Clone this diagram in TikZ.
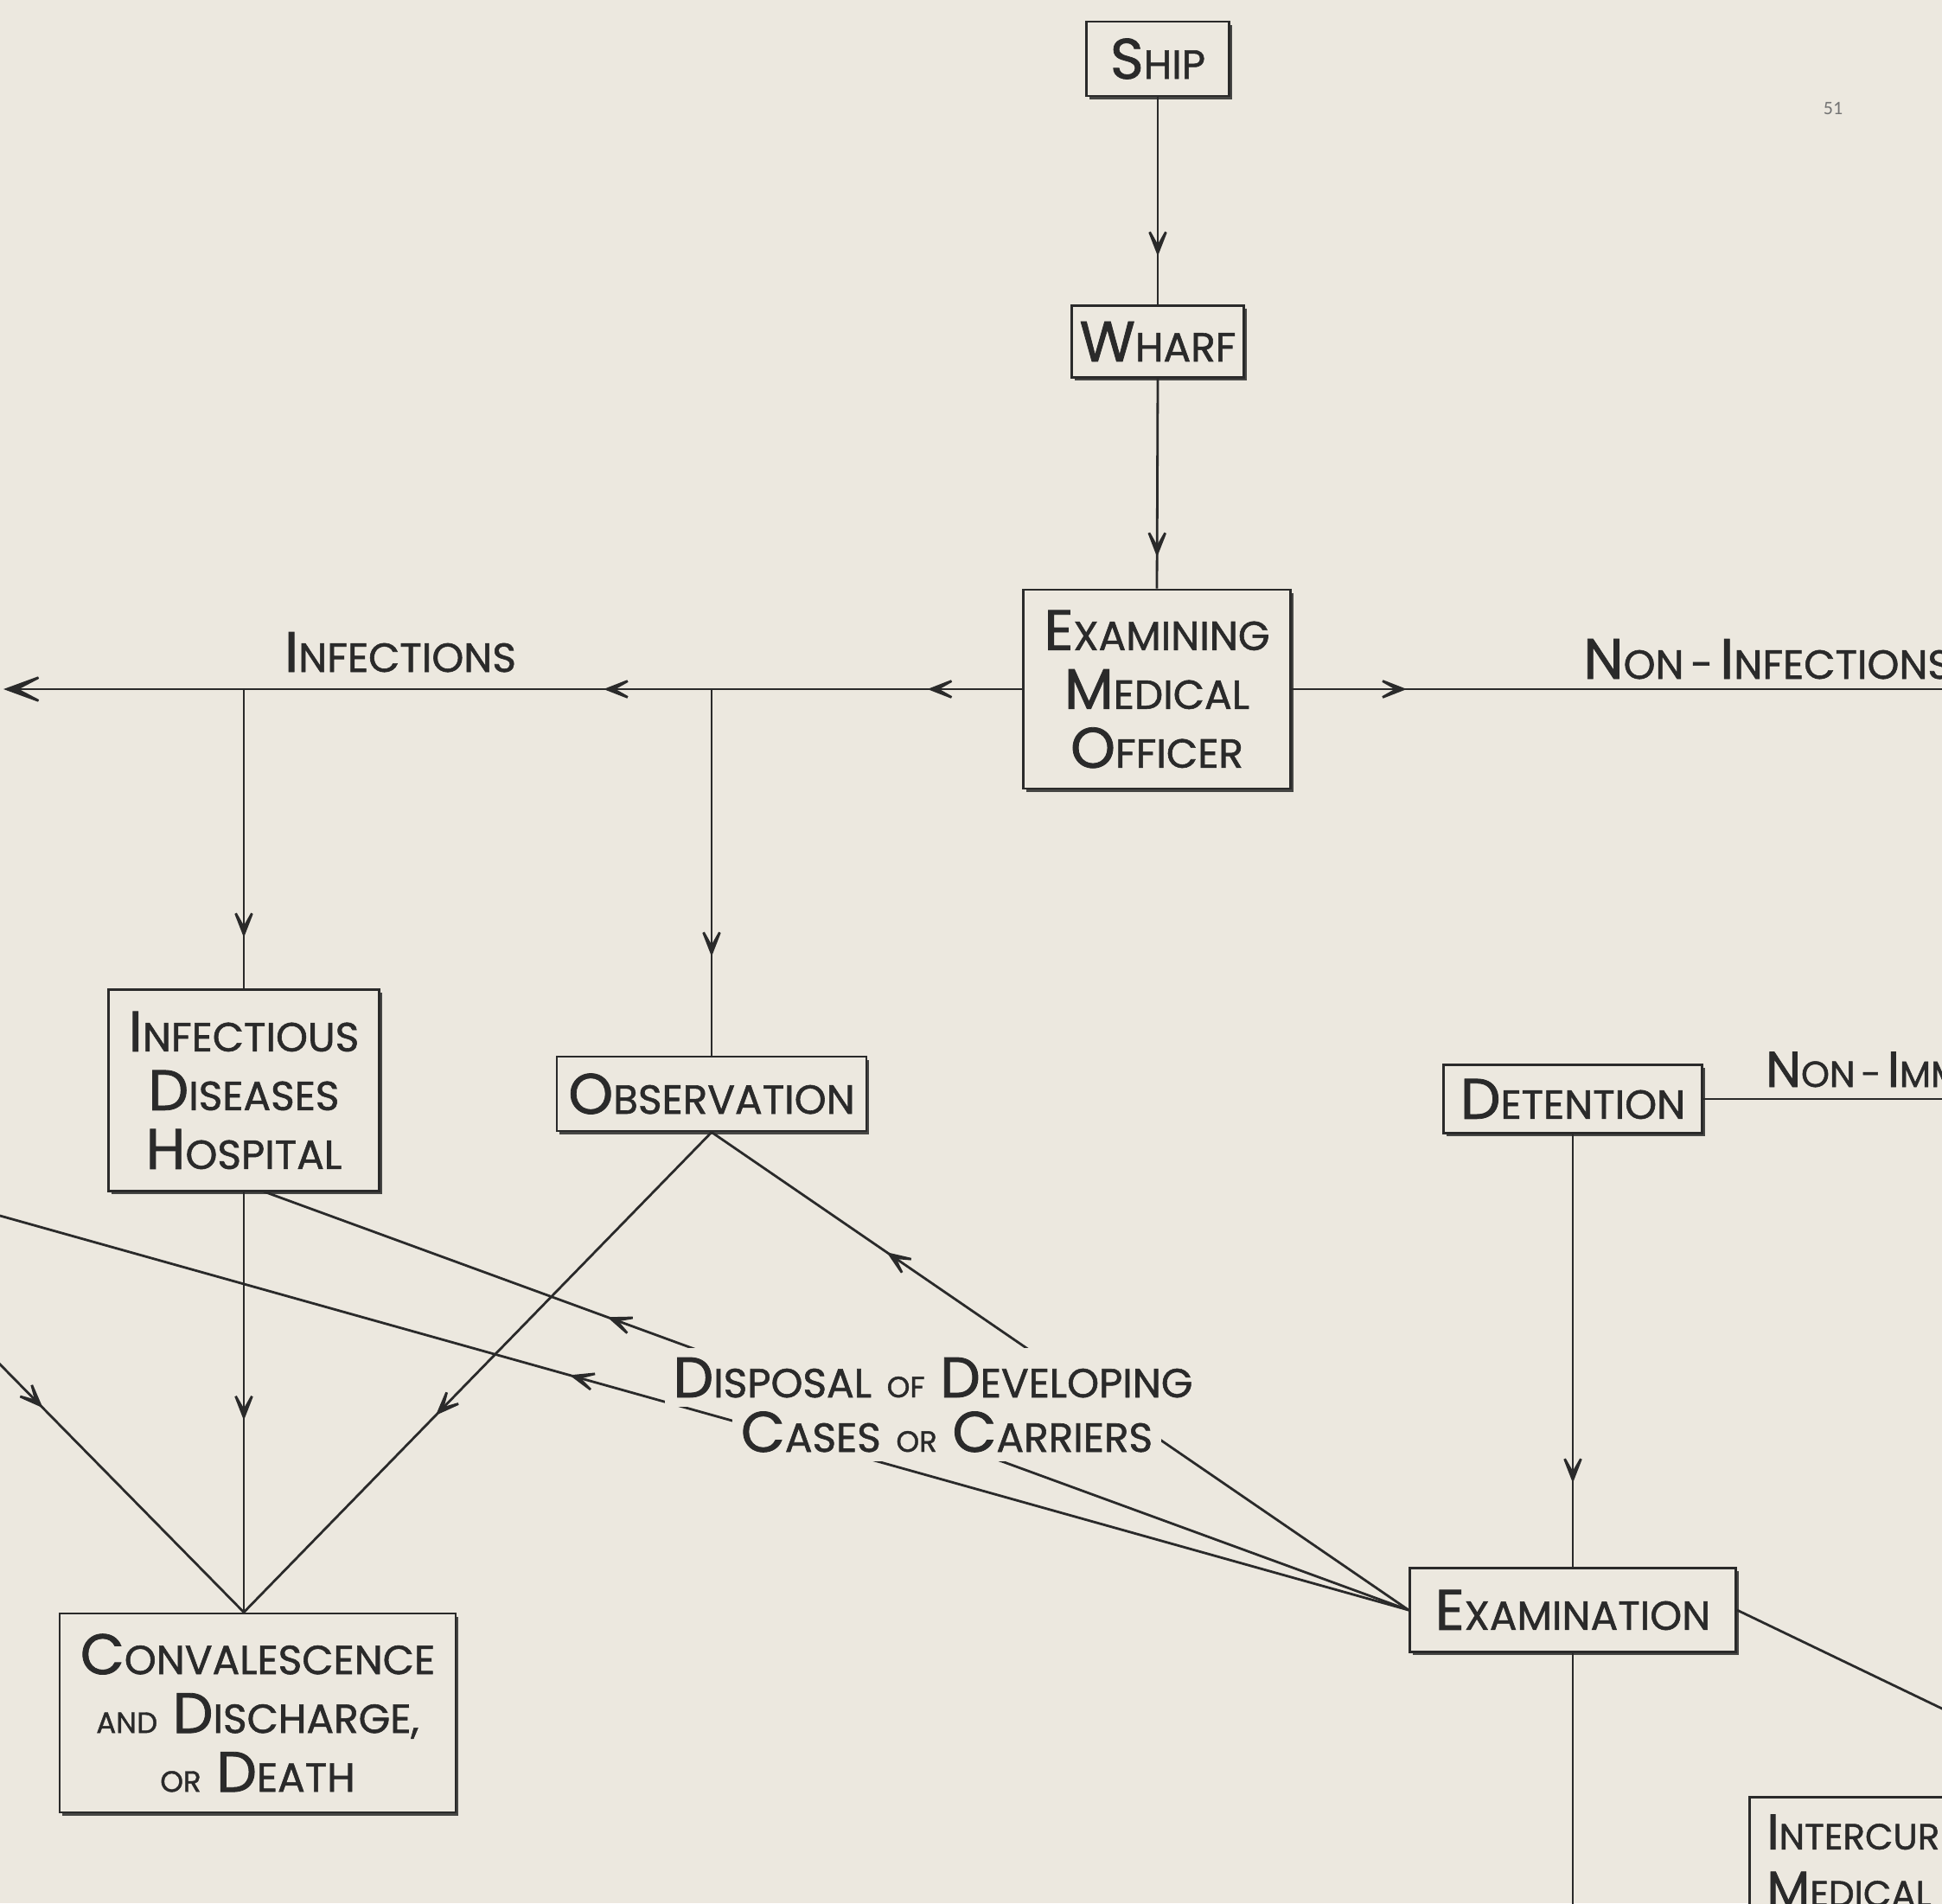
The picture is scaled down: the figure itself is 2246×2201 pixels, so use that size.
\documentclass[tikz,border=0pt]{standalone}
\usepackage{fontspec}
\setmainfont{Poppins}[FakeBold=1.2]
\newfontfamily\pgnumfont{Carlito}
\usetikzlibrary{arrows.meta,decorations.markings,shadows,calc}
\definecolor{paper}{HTML}{ECE8DF}
\definecolor{ink}{HTML}{2A2A2A}
\newcommand\BG[1]{{\fontsize{66pt}{70pt}\selectfont #1}}
\newcommand\SM[1]{{\fontsize{47pt}{70pt}\selectfont #1}}
\newcommand\TN[1]{{\fontsize{34pt}{70pt}\selectfont #1}}
\newcommand\HY{{\fontsize{47pt}{70pt}\selectfont\,-\,}}
\newcommand\BGs[1]{{\fontsize{58pt}{66pt}\selectfont #1}}
\newcommand\SMs[1]{{\fontsize{42pt}{66pt}\selectfont #1}}
\newcommand\HYs{{\fontsize{42pt}{66pt}\selectfont\,-\,}}
\begin{document}
\begin{tikzpicture}[x=1pt,y=-1pt,
  box/.style={draw=ink, line width=2.8pt, fill=paper, inner sep=0pt, align=center,
    text=ink, font=\fontsize{66pt}{68pt}\selectfont,
    drop shadow={shadow xshift=3pt, shadow yshift=-3.5pt, fill=ink, opacity=0.85}},
  conn/.style={draw=ink, line width=2.8pt},
  arr/.style={postaction={decorate}, decoration={markings,
    mark=at position #1 with {\arrow{Stealth[length=46pt,width=36pt,inset=32pt]}}}},
  lab/.style={text=ink, inner sep=0pt, font=\fontsize{66pt}{68pt}\selectfont},
  hidelab/.style={lab, fill=paper, inner xsep=10pt, inner ysep=11pt}]
\fill[paper] (0,0) rectangle (2246,2201);
\useasboundingbox (0,0) rectangle (2246,2201);
\clip (0,0) rectangle (2246,2201);

% boxes
\node[box, minimum width=165pt, minimum height=86pt] (ship) at (1339,68) {\BG{S}\SM{HIP}};
\node[box, minimum width=199pt, minimum height=83pt] (wharf) at (1339,395) {\BG{W}\SM{HARF}};
\node[box, minimum width=309pt, minimum height=230pt] (emo) at (1338,797)
  {\BG{E}\SM{XAMINING}\\\BG{M}\SM{EDICAL}\\\BG{O}\SM{FFICER}};
\node[box, minimum width=313pt, minimum height=233pt] (idh) at (282,1261)
  {\BG{I}\SM{NFECTIOUS}\\\BG{D}\SM{ISEASES}\\\BG{H}\SM{OSPITAL}};
\node[box, minimum width=358pt, minimum height=86pt] (obs) at (823,1265) {\BG{O}\SM{BSERVATION}};
\node[box, minimum width=299pt, minimum height=79pt] (det) at (1819,1271) {\BG{D}\SM{ETENTION}};
\node[box, minimum width=377pt, minimum height=97pt] (exam) at (1819,1862) {\BG{E}\SM{XAMINATION}};
\node[box, minimum width=458pt, minimum height=230pt] (conv) at (298,1981)
  {\BG{C}\SM{ONVALESCENCE}\\\TN{AND} \BG{D}\SM{ISCHARGE,}\\\TN{OR} \BG{D}\SM{EATH}};
\node[box, anchor=north west, text width=360pt, inner xsep=20pt, inner ysep=20pt, align=left,
  font=\fontsize{58pt}{66pt}\selectfont]
  (inter) at (2022,2077) {\BGs{I}\SMs{NTERCUR}\\\BGs{M}\SMs{EDICAL}\\[40pt]};

% junctions and free ends
\coordinate (j1) at (obs.north |- emo.west);
\coordinate (j2) at (idh.north |- emo.west);
\coordinate (ledge0) at (4,797);
\coordinate (redge0) at (2300,797);
\coordinate (redge1) at (2300,1271);
\coordinate (bedge) at (1819,2300);
\coordinate (redge2) at (2400,2050);
\coordinate (ledge1) at (-50,1392);
\coordinate (ledge2) at (-50,1527);
\coordinate (idhb) at (305,1378);
\coordinate (capex) at (idh.south |- conv.north);

% connectors
\draw[conn, arr=0.767] (ship.south) -- (wharf.north);
\draw[conn, arr=0.85] (wharf.south) -- (emo.north);
\draw[conn, arr=0.305] (emo.west) -- (j1);
\draw[conn, arr=0.231] (j1) -- (j2);
\draw[conn, -{Stealth[length=60pt,width=44pt,inset=42pt]}] (j2) -- (ledge0);
\draw[conn, arr=0.73] (j1) -- (obs.north);
\draw[conn, arr=0.83] (j2) -- (idh.north);
\draw[conn, arr=0.165] (emo.east) -- (redge0);
\draw[conn] (det.east) -- (redge1);
\draw[conn, arr=0.806] (det.south) -- (exam.north);
\draw[conn] (exam.south) -- (bedge);
\draw[conn] (exam.east) -- (redge2);
\draw[conn, arr=0.543] (idh.south) -- (capex);
\draw[conn, arr=0.59] (obs.south) -- (capex);
\draw[conn, arr=0.30] (ledge2) -- (capex);
\draw[conn, arr=0.749] (exam.west) -- (obs.south);
\draw[conn, arr=0.70] (exam.west) -- (idhb);
\draw[conn, arr=0.578] (exam.west) -- (ledge1);

% labels
\node[lab, anchor=base] (infl) at (463,777) {\BG{I}\SM{NFECTIONS}};
\node[lab, anchor=base west] (noninf) at (1831,785) {\BG{N}\SM{ON}\HY\BG{I}\SM{NFECTIONS}};
\node[lab, anchor=base west, font=\fontsize{58pt}{66pt}\selectfont] (nonimm) at (2042,1257) {\BGs{N}\SMs{ON}\HYs\BGs{I}\SMs{MM}};
\node[hidelab, anchor=base] (disp1) at (1079,1616) {\BG{D}\SM{ISPOSAL} \TN{OF} \BG{D}\SM{EVELOPING}};
\node[hidelab, anchor=base] (disp2) at (1095,1679) {\BG{C}\SM{ASES} \TN{OR} \BG{C}\SM{ARRIERS}};
\node[text=black!55, inner sep=0pt, font=\pgnumfont\fontsize{22pt}{24pt}\selectfont] (pg) at (2120,125) {51};
\end{tikzpicture}
\end{document}
